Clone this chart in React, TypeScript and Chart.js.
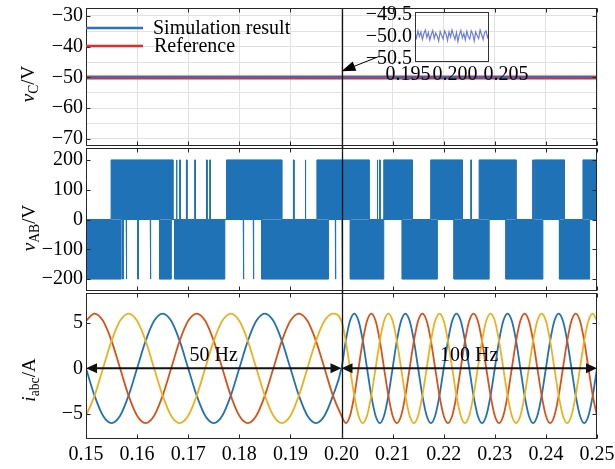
import React, { useEffect, useRef } from 'react';
import { Chart, registerables } from 'chart.js';

Chart.register(...registerables);

const FONT = "'Liberation Serif', 'Times New Roman', Times, serif";

// ---------------- shared time axis ----------------
const X_MIN = 0.15;
const X_MAX = 0.25;
const X_TICKS = [0.15, 0.16, 0.17, 0.18, 0.19, 0.2, 0.21, 0.22, 0.23, 0.24, 0.25];
const X_TICK_LABELS = ['0.15', '0.16', '0.17', '0.18', '0.19', '0.20', '0.21', '0.22', '0.23', '0.24', '0.25'];
const T_SWITCH = 0.2;

// ---------------- panel 1 : v_C ----------------
const VC_T = [0.15, 0.25];
const VC_SIM = [-49.96, -49.96];
const VC_REF = [-50, -50];
const VC_MIN = -72.3;
const VC_MAX = -27.4;
const VC_GRID = [-70, -65, -60, -55, -50, -45, -40, -35, -30];
const VC_LABELED = [-70, -60, -50, -40, -30];
const LEGEND_LABELS = ['Simulation result', 'Reference'];
// arrow from inset to the curve: [tail t, tail v, tip t, tip v]
const VC_ARROW = [0.2073, -43.2, 0.2, -48.0];

// inset (zoom of the simulation result)
const INSET_T = [
  0.195, 0.1952, 0.1954, 0.1956, 0.1958, 0.196, 0.1962, 0.1964, 0.1966, 0.1968,
  0.197, 0.1972, 0.1974, 0.1976, 0.1978, 0.198, 0.1982, 0.1984, 0.1986, 0.1988,
  0.199, 0.1992, 0.1994, 0.1996, 0.1998, 0.2, 0.2002, 0.2004, 0.2006, 0.2008,
  0.201, 0.2012, 0.2014, 0.2016, 0.2018, 0.202, 0.2022, 0.2024, 0.2026, 0.2028,
  0.203, 0.2032, 0.2034, 0.2036, 0.2038, 0.204, 0.2042, 0.2044, 0.2046, 0.2048,
  0.205,
];
const INSET_V = [
  -49.92, -50.02, -49.88, -49.99, -49.9, -50.05, -49.93, -49.86, -50.01, -49.91,
  -50.06, -49.95, -49.87, -50.03, -49.92, -49.98, -50.08, -49.89, -49.97, -50.04,
  -49.88, -49.94, -50.07, -49.9, -50.0, -49.86, -49.96, -50.05, -49.91, -50.09,
  -49.95, -49.87, -50.02, -49.93, -50.06, -49.89, -49.99, -50.04, -49.88, -49.94,
  -50.08, -49.9, -49.97, -50.03, -49.86, -49.95, -50.05, -49.91, -49.88, -50.01,
  -49.93,
];
const INSET_X_MIN = 0.195;
const INSET_X_MAX = 0.205;
const INSET_Y_MIN = -50.5;
const INSET_Y_MAX = -49.5;
const INSET_X_TICKS = [0.195, 0.2, 0.205];
const INSET_X_LABELS = ['0.195', '0.200', '0.205'];
const INSET_Y_TICKS = [-50.5, -50, -49.5];
const INSET_Y_LABELS = ['\u221250.5', '\u221250.0', '\u221249.5'];

// ---------------- panel 2 : v_AB ----------------
const VAB_MIN = -240;
const VAB_MAX = 240;
const VAB_TICKS = [-200, -100, 0, 100, 200];
const VAB_HIGH = 200;
const VAB_LOW = -200;
// time intervals during which the voltage switches up to +200 V
const VAB_POS_ON = [
  [0.15, 0.15015], [0.15491, 0.16701], [0.16768, 0.1678], [0.16833, 0.16845],
  [0.16965, 0.16977], [0.17128, 0.1714], [0.17358, 0.1737], [0.17422, 0.17434],
  [0.1775, 0.18831], [0.19059, 0.19071], [0.19289, 0.19301], [0.19519, 0.2054],
  [0.20697, 0.20709], [0.20743, 0.20755], [0.20827, 0.21385], [0.21745, 0.22367],
  [0.2253, 0.22542], [0.22693, 0.23415], [0.23742, 0.23754], [0.23774, 0.24364],
  [0.24725, 0.25],
];
// time intervals during which the voltage switches down to -200 V
const VAB_NEG_ON = [
  [0.15, 0.15688], [0.15719, 0.15731], [0.15786, 0.15798], [0.16014, 0.16026],
  [0.16257, 0.16269], [0.1644, 0.1667], [0.16735, 0.17717], [0.18077, 0.18089],
  [0.18273, 0.18285], [0.18438, 0.19747], [0.19878, 0.1989], [0.2001, 0.20022],
  [0.20173, 0.20827], [0.21189, 0.21876], [0.22202, 0.2289], [0.23218, 0.23941],
  [0.24265, 0.24855],
];

// ---------------- panel 3 : i_abc ----------------
const IABC_MIN = -7.75;
const IABC_MAX = 8.25;
const IABC_TICKS = [-5, 0, 5];
const FREQ_LABELS = ['50 Hz', '100 Hz'];
const IABC_T = [
  0.15, 0.15167, 0.15333, 0.155, 0.15667, 0.15833, 0.16, 0.16167, 0.16333, 0.165, 0.16667, 0.16833,
  0.17, 0.17167, 0.17333, 0.175, 0.17667, 0.17833, 0.18, 0.18167, 0.18333, 0.185, 0.18667, 0.18833,
  0.19, 0.19167, 0.19333, 0.195, 0.19667, 0.19833, 0.2,
  0.20083, 0.20167, 0.2025, 0.20333, 0.20417,
  0.205, 0.20583, 0.20667, 0.2075, 0.20833, 0.20917, 0.21, 0.21083, 0.21167, 0.2125, 0.21333, 0.21417,
  0.215, 0.21583, 0.21667, 0.2175, 0.21833, 0.21917, 0.22, 0.22083, 0.22167, 0.2225, 0.22333, 0.22417,
  0.225, 0.22583, 0.22667, 0.2275, 0.22833, 0.22917, 0.23, 0.23083, 0.23167, 0.2325, 0.23333, 0.23417,
  0.235, 0.23583, 0.23667, 0.2375, 0.23833, 0.23917, 0.24, 0.24083, 0.24167, 0.2425, 0.24333, 0.24417,
  0.245, 0.24583, 0.24667, 0.2475, 0.24833, 0.24917, 0.25,
];
const IA = [
  0, -3, -5.2, -6, -5.2, -3, 0, 3, 5.2, 6, 5.2, 3,
  0, -3, -5.2, -6, -5.2, -3, 0, 3, 5.2, 6, 5.2, 3,
  0, -3, -5.2, -6, -5.2, -3, 0, 3, 5.2, 6, 5.2, 3,
  0, -3, -5.2, -6, -5.2, -3, 0, 3, 5.2, 6, 5.2, 3,
  0, -3, -5.2, -6, -5.2, -3, 0, 3, 5.2, 6, 5.2, 3,
  0, -3, -5.2, -6, -5.2, -3, 0, 3, 5.2, 6, 5.2, 3,
  0, -3, -5.2, -6, -5.2, -3, 0, 3, 5.2, 6, 5.2, 3,
  0, -3, -5.2, -6, -5.2, -3, 0,
];
const IB = [
  5.2, 6, 5.2, 3, 0, -3, -5.2, -6, -5.2, -3, 0, 3,
  5.2, 6, 5.2, 3, 0, -3, -5.2, -6, -5.2, -3, 0, 3,
  5.2, 6, 5.2, 3, 0, -3, -5.2, -6, -5.2, -3, 0, 3,
  5.2, 6, 5.2, 3, 0, -3, -5.2, -6, -5.2, -3, 0, 3,
  5.2, 6, 5.2, 3, 0, -3, -5.2, -6, -5.2, -3, 0, 3,
  5.2, 6, 5.2, 3, 0, -3, -5.2, -6, -5.2, -3, 0, 3,
  5.2, 6, 5.2, 3, 0, -3, -5.2, -6, -5.2, -3, 0, 3,
  5.2, 6, 5.2, 3, 0, -3, -5.2,
];
const IC = [
  -5.2, -3, 0, 3, 5.2, 6, 5.2, 3, 0, -3, -5.2, -6,
  -5.2, -3, 0, 3, 5.2, 6, 5.2, 3, 0, -3, -5.2, -6,
  -5.2, -3, 0, 3, 5.2, 6, 5.2, 3, 0, -3, -5.2, -6,
  -5.2, -3, 0, 3, 5.2, 6, 5.2, 3, 0, -3, -5.2, -6,
  -5.2, -3, 0, 3, 5.2, 6, 5.2, 3, 0, -3, -5.2, -6,
  -5.2, -3, 0, 3, 5.2, 6, 5.2, 3, 0, -3, -5.2, -6,
  -5.2, -3, 0, 3, 5.2, 6, 5.2, 3, 0, -3, -5.2, -6,
  -5.2, -3, 0, 3, 5.2, 6, 5.2,
];

// ---------------- styles ----------------
const BLUE = '#1f72b6';
const ORANGE = '#d95319';
const YELLOW = '#edb120';
const SIM_BLUE = '#2d6fc2';
const REF_RED = '#e82a2a';
const INSET_LINE = 'rgba(72, 92, 215, 0.8)';
const FRAME = '#262626';
const GRID = '#e2e2e2';
const TICK_LEN = 4;

const fmt = (v: number) => (v < 0 ? '\u2212' : '') + Math.abs(v);

function pairs(xs: number[], ys: number[]) {
  return xs.map((x, i) => ({ x, y: ys[i] }));
}

function pulseTrain(intervals: number[][], level: number) {
  const pts: { x: number; y: number }[] = [{ x: X_MIN, y: 0 }];
  for (const [a, b] of intervals) {
    pts.push({ x: a, y: 0 }, { x: a, y: level }, { x: b, y: level }, { x: b, y: 0 });
  }
  pts.push({ x: X_MAX, y: 0 });
  return pts;
}

function arrowHead(ctx: CanvasRenderingContext2D, tx: number, ty: number, fx: number, fy: number, len: number, half: number) {
  const ang = Math.atan2(ty - fy, tx - fx);
  const bx = tx - len * Math.cos(ang);
  const by = ty - len * Math.sin(ang);
  ctx.beginPath();
  ctx.moveTo(tx, ty);
  ctx.lineTo(bx + half * Math.sin(ang), by - half * Math.cos(ang));
  ctx.lineTo(bx - half * Math.sin(ang), by + half * Math.cos(ang));
  ctx.closePath();
  ctx.fill();
}

function zeroPadding(s: any) {
  s.paddingTop = 0;
  s.paddingBottom = 0;
  s.paddingLeft = 0;
  s.paddingRight = 0;
}

function xScale(showLabels: boolean, grid: boolean) {
  return {
    type: 'linear',
    min: X_MIN,
    max: X_MAX,
    afterBuildTicks: (s: any) => {
      s.ticks = X_TICKS.map((v) => ({ value: v }));
    },
    afterFit: (s: any) => {
      s.height = showLabels ? 30 : 0;
      zeroPadding(s);
    },
    grid: { display: grid, color: GRID, drawTicks: false, lineWidth: 1 },
    border: { display: false },
    ticks: {
      display: showLabels,
      autoSkip: false,
      maxRotation: 0,
      minRotation: 0,
      padding: 4,
      color: '#000',
      font: { family: FONT, size: 20 },
      callback: (v: number) => X_TICK_LABELS[X_TICKS.indexOf(v)],
    },
  };
}

function yScale(min: number, max: number, ticks: number[], labeled: number[], grid: boolean, width = 86) {
  return {
    type: 'linear',
    min,
    max,
    afterBuildTicks: (s: any) => {
      s.ticks = ticks.map((v) => ({ value: v }));
    },
    afterFit: (s: any) => {
      s.width = width;
      zeroPadding(s);
    },
    grid: { display: grid, color: GRID, drawTicks: false, lineWidth: 1 },
    border: { display: false },
    ticks: {
      autoSkip: false,
      padding: 3,
      color: '#000',
      font: { family: FONT, size: 20 },
      callback: (v: number) => (labeled.includes(v) ? fmt(v) : ''),
    },
  };
}

function decor(cfg: { xTicks: number[]; yTicks: number[]; divider?: [number, number]; extra?: (chart: any) => void }) {
  return {
    id: 'decor',
    afterDatasetsDraw(chart: any) {
      const { ctx, chartArea: a, scales } = chart;
      const x = scales.x;
      const y = scales.y;
      ctx.save();
      const l = Math.round(a.left) + 0.5;
      const r = Math.round(a.right) - 0.5;
      const t = Math.round(a.top) + 0.5;
      const b = Math.round(a.bottom) - 0.5;
      if (cfg.divider) {
        const px = Math.round(x.getPixelForValue(T_SWITCH)) + 0.5;
        ctx.strokeStyle = '#111';
        ctx.lineWidth = 1.3;
        ctx.beginPath();
        ctx.moveTo(px, a.top - cfg.divider[0]);
        ctx.lineTo(px, a.bottom + cfg.divider[1]);
        ctx.stroke();
      }
      ctx.strokeStyle = FRAME;
      ctx.lineWidth = 1;
      ctx.strokeRect(l, t, r - l, b - t);
      ctx.beginPath();
      for (const v of cfg.xTicks) {
        const px = Math.round(x.getPixelForValue(v)) + 0.5;
        ctx.moveTo(px, b);
        ctx.lineTo(px, b - TICK_LEN);
        ctx.moveTo(px, t);
        ctx.lineTo(px, t + TICK_LEN);
      }
      for (const v of cfg.yTicks) {
        const py = Math.round(y.getPixelForValue(v)) + 0.5;
        ctx.moveTo(l, py);
        ctx.lineTo(l + TICK_LEN, py);
        ctx.moveTo(r, py);
        ctx.lineTo(r - TICK_LEN, py);
      }
      ctx.stroke();
      if (cfg.extra) cfg.extra(chart);
      ctx.restore();
    },
  };
}

const baseOpts = {
  responsive: false,
  maintainAspectRatio: false,
  animation: false,
  devicePixelRatio: 1,
  events: [],
  plugins: { legend: { display: false }, tooltip: { enabled: false }, title: { display: false } },
  elements: { point: { radius: 0 } },
};

function YTitle({ cx, cy, children }: { cx: number; cy: number; children: any }) {
  return (
    <div
      style={{
        position: 'absolute',
        left: cx,
        top: cy,
        transform: 'translate(-50%, -50%) rotate(-90deg)',
        whiteSpace: 'nowrap',
        fontFamily: FONT,
        fontSize: 19,
        lineHeight: 1,
        color: '#000',
      }}
    >
      {children}
    </div>
  );
}

const subStyle = { fontSize: '0.72em', verticalAlign: '-0.3em', lineHeight: 0 } as const;

export default function App() {
  const topRef = useRef<HTMLCanvasElement>(null);
  const midRef = useRef<HTMLCanvasElement>(null);
  const botRef = useRef<HTMLCanvasElement>(null);
  const insetRef = useRef<HTMLCanvasElement>(null);

  useEffect(() => {
    const charts: Chart[] = [];

    // ---- top panel ----
    charts.push(
      new Chart(topRef.current!, {
        type: 'line',
        data: {
          datasets: [
            { data: pairs(VC_T, VC_SIM), borderColor: SIM_BLUE, borderWidth: 2, pointRadius: 0, order: 0 },
            { data: pairs(VC_T, VC_REF), borderColor: REF_RED, borderWidth: 4, pointRadius: 0, order: 1 },
          ],
        },
        options: {
          ...baseOpts,
          layout: { padding: { top: 8, bottom: 4, left: 0, right: 18 } },
          scales: {
            x: xScale(false, true),
            y: yScale(VC_MIN, VC_MAX, VC_GRID, VC_LABELED, true),
          },
        } as any,
        plugins: [
          decor({
            xTicks: X_TICKS,
            yTicks: VC_LABELED,
            divider: [0, 2],
            extra: (chart: any) => {
              const { ctx, chartArea: a, scales } = chart;
              // legend
              ctx.lineWidth = 2.5;
              ctx.strokeStyle = SIM_BLUE;
              ctx.beginPath();
              ctx.moveTo(a.left, 28);
              ctx.lineTo(a.left + 57, 28);
              ctx.stroke();
              ctx.strokeStyle = REF_RED;
              ctx.beginPath();
              ctx.moveTo(a.left, 46);
              ctx.lineTo(a.left + 57, 46);
              ctx.stroke();
              ctx.fillStyle = '#000';
              ctx.font = `20px ${FONT}`;
              ctx.textAlign = 'left';
              ctx.textBaseline = 'middle';
              ctx.fillText(LEGEND_LABELS[0], a.left + 67, 29);
              ctx.fillText(LEGEND_LABELS[1], a.left + 68, 47);
              // arrow toward the curve
              const tx = scales.x.getPixelForValue(VC_ARROW[0]);
              const ty = scales.y.getPixelForValue(VC_ARROW[1]);
              const hx = scales.x.getPixelForValue(VC_ARROW[2]);
              const hy = scales.y.getPixelForValue(VC_ARROW[3]);
              ctx.strokeStyle = '#000';
              ctx.lineWidth = 1;
              ctx.beginPath();
              ctx.moveTo(tx, ty);
              ctx.lineTo(hx + (tx - hx) * 0.3, hy + (ty - hy) * 0.3);
              ctx.stroke();
              ctx.fillStyle = '#000';
              arrowHead(ctx, hx, hy, tx, ty, 14, 5);
            },
          }),
        ],
      } as any)
    );

    // ---- inset ----
    charts.push(
      new Chart(insetRef.current!, {
        type: 'line',
        data: {
          datasets: [
            { data: pairs(INSET_T, INSET_V), borderColor: INSET_LINE, borderWidth: 1.2, pointRadius: 0, tension: 0 },
          ],
        },
        options: {
          ...baseOpts,
          layout: { padding: { top: 12, bottom: 0, left: 0, right: 41 } },
          scales: {
            x: {
              type: 'linear',
              min: INSET_X_MIN,
              max: INSET_X_MAX,
              afterBuildTicks: (s: any) => {
                s.ticks = INSET_X_TICKS.map((v) => ({ value: v }));
              },
              afterFit: (s: any) => {
                s.height = 38;
                zeroPadding(s);
              },
              grid: { display: false },
              border: { display: false },
              ticks: { display: false },
            },
            y: {
              type: 'linear',
              min: INSET_Y_MIN,
              max: INSET_Y_MAX,
              display: true,
              afterBuildTicks: (s: any) => {
                s.ticks = INSET_Y_TICKS.map((v) => ({ value: v }));
              },
              afterFit: (s: any) => {
                s.width = 85;
                zeroPadding(s);
              },
              grid: { display: false, drawTicks: false },
              border: { display: false },
              ticks: { display: false },
            },
          },
        } as any,
        plugins: [
          {
            id: 'insetDecor',
            afterDatasetsDraw(chart: any) {
              const { ctx, chartArea: a, scales } = chart;
              ctx.save();
              ctx.strokeStyle = '#333';
              ctx.lineWidth = 1;
              const l = Math.round(a.left) + 0.5;
              const t = Math.round(a.top) + 0.5;
              const r = Math.round(a.right) - 0.5;
              const b = Math.round(a.bottom) - 0.5;
              ctx.strokeRect(l, t, r - l, b - t);
              ctx.fillStyle = '#000';
              ctx.font = `20px ${FONT}`;
              ctx.textAlign = 'center';
              ctx.textBaseline = 'middle';
              const spread = [-7, 3, 17];
              INSET_X_TICKS.forEach((v, i) => {
                ctx.fillText(INSET_X_LABELS[i], scales.x.getPixelForValue(v) + spread[i], a.bottom + 13);
              });
              ctx.textAlign = 'right';
              const ySpread = [-3, 0, 3];
              INSET_Y_TICKS.forEach((v, i) => {
                ctx.fillText(INSET_Y_LABELS[i], a.left - 3, scales.y.getPixelForValue(v) + ySpread[i]);
              });
              ctx.restore();
            },
          },
        ],
      } as any)
    );

    // ---- middle panel ----
    charts.push(
      new Chart(midRef.current!, {
        type: 'line',
        data: {
          datasets: [
            {
              data: pulseTrain(VAB_POS_ON, VAB_HIGH),
              borderColor: BLUE,
              backgroundColor: BLUE,
              fill: 'origin',
              borderWidth: 1,
              pointRadius: 0,
              tension: 0,
            },
            {
              data: pulseTrain(VAB_NEG_ON, VAB_LOW),
              borderColor: BLUE,
              backgroundColor: BLUE,
              fill: 'origin',
              borderWidth: 1,
              pointRadius: 0,
              tension: 0,
            },
          ],
        },
        options: {
          ...baseOpts,
          layout: { padding: { top: 2, bottom: 5, left: 0, right: 18 } },
          scales: {
            x: xScale(false, false),
            y: yScale(VAB_MIN, VAB_MAX, VAB_TICKS, VAB_TICKS, false),
          },
        } as any,
        plugins: [decor({ xTicks: X_TICKS, yTicks: VAB_TICKS, divider: [2, 2] })],
      } as any)
    );

    // ---- bottom panel ----
    charts.push(
      new Chart(botRef.current!, {
        type: 'line',
        data: {
          datasets: [
            { data: pairs(IABC_T, IC), borderColor: YELLOW, borderWidth: 1.8, pointRadius: 0, cubicInterpolationMode: 'monotone', order: 0 },
            { data: pairs(IABC_T, IB), borderColor: ORANGE, borderWidth: 1.8, pointRadius: 0, cubicInterpolationMode: 'monotone', order: 1 },
            { data: pairs(IABC_T, IA), borderColor: BLUE, borderWidth: 1.8, pointRadius: 0, cubicInterpolationMode: 'monotone', order: 2 },
          ],
        },
        options: {
          ...baseOpts,
          layout: { padding: { top: 2, bottom: 0, left: 0, right: 18 } },
          scales: {
            x: xScale(true, false),
            y: yScale(IABC_MIN, IABC_MAX, IABC_TICKS, IABC_TICKS, false),
          },
        } as any,
        plugins: [
          decor({
            xTicks: X_TICKS,
            yTicks: IABC_TICKS,
            divider: [2, 0],
            extra: (chart: any) => {
              const { ctx, scales } = chart;
              const y0 = scales.y.getPixelForValue(0);
              const xs = [X_MIN, T_SWITCH, X_MAX].map((v) => scales.x.getPixelForValue(v));
              ctx.strokeStyle = '#111';
              ctx.fillStyle = '#111';
              ctx.lineWidth = 2;
              for (let i = 0; i < 2; i++) {
                const x1 = xs[i];
                const x2 = xs[i + 1];
                ctx.beginPath();
                ctx.moveTo(x1 + 8, y0);
                ctx.lineTo(x2 - 8, y0);
                ctx.stroke();
                arrowHead(ctx, x1, y0, x2, y0, 11, 5);
                arrowHead(ctx, x2, y0, x1, y0, 11, 5);
              }
              ctx.fillStyle = '#000';
              ctx.font = `20px ${FONT}`;
              ctx.textAlign = 'center';
              ctx.textBaseline = 'middle';
              for (let i = 0; i < 2; i++) {
                ctx.fillText(FREQ_LABELS[i], (xs[i] + xs[i + 1]) / 2, y0 - 13);
              }
            },
          }),
        ],
      } as any)
    );

    return () => {
      charts.forEach((c) => c.destroy());
    };
  }, []);

  return (
    <div style={{ position: 'fixed', left: 0, top: 0, width: 615, height: 469, background: '#fff', overflow: 'hidden' }}>
      <canvas ref={topRef} width={615} height={150} style={{ position: 'absolute', left: 0, top: 0 }} />
      <canvas ref={midRef} width={615} height={150} style={{ position: 'absolute', left: 0, top: 146 }} />
      <canvas ref={botRef} width={615} height={178} style={{ position: 'absolute', left: 0, top: 291 }} />
      <canvas ref={insetRef} width={200} height={100} style={{ position: 'absolute', left: 330, top: 0 }} />
      <YTitle cx={27} cy={84}>
        <i>v</i>
        <sub style={subStyle}>C</sub>/V
      </YTitle>
      <YTitle cx={28} cy={228}>
        <i>v</i>
        <sub style={subStyle}>AB</sub>/V
      </YTitle>
      <YTitle cx={28} cy={380}>
        <i>i</i>
        <sub style={subStyle}>abc</sub>/A
      </YTitle>
    </div>
  );
}
